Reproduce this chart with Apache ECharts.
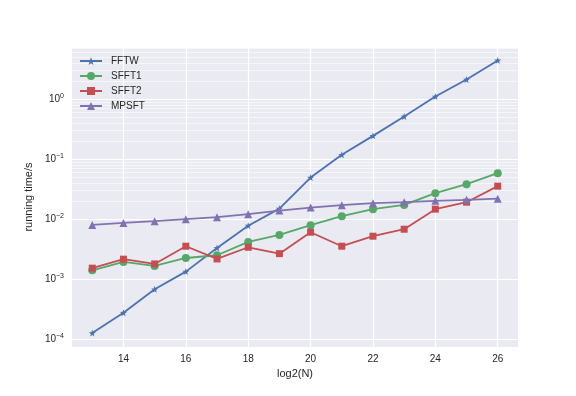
<!DOCTYPE html>
<html>
<head>
<meta charset="utf-8">
<script src="https://cdn.jsdelivr.net/npm/echarts@6/dist/echarts.min.js"></script>
<style>html,body{margin:0;padding:0;background:#fff}#c{width:576px;height:396px}</style>
</head>
<body>
<div id="c"></div>
<script>
const xValues = [13,14,15,16,17,18,19,20,21,22,23,24,25,26];
const fftw  = [1.27e-4,2.77e-4,6.8e-4,1.34e-3,3.32e-3,7.8e-3,0.0150,0.0493,0.118,0.244,0.513,1.10,2.12,4.40];
const sfft1 = [1.41e-3,1.94e-3,1.67e-3,2.26e-3,2.51e-3,4.19e-3,5.47e-3,7.94e-3,0.0112,0.0147,0.0173,0.0271,0.0383,0.0584];
const sfft2 = [1.53e-3,2.16e-3,1.80e-3,3.55e-3,2.18e-3,3.41e-3,2.67e-3,6.07e-3,3.55e-3,5.21e-3,6.81e-3,0.0147,0.0192,0.0355];
const mpsft = [8.03e-3,8.68e-3,9.27e-3,0.0100,0.0108,0.0121,0.0139,0.0156,0.0171,0.0185,0.0192,0.0202,0.0210,0.0220];
const xTicks = [14,16,18,20,22,24,26];
const seriesNames = ['FFTW','SFFT1','SFFT2','MPSFT'];
const colors = ['#4C72B0','#55A868','#C44E52','#8172B2'];
const FONT = 'Liberation Sans';

const yMin = 7.45e-5, yMax = 7.36;
const minorVals = [];
for (let e = -5; e <= 0; e++) {
  for (let m = 2; m <= 9; m++) {
    const v = m * Math.pow(10, e);
    if (v > yMin && v < yMax) minorVals.push(v);
  }
}

const star = 'path://M0,-10 L2.35,-3.24 L9.51,-3.09 L3.8,1.24 L5.88,8.09 L0,4 L-5.88,8.09 L-3.8,1.24 L-9.51,-3.09 L-2.35,-3.24 Z';
const symbols = [star, 'circle', 'rect', 'triangle'];
const sizes = [7, 8, 7, 8];
const datasets = [fftw, sfft1, sfft2, mpsft];

const series = seriesNames.map((n, i) => ({
  name: n,
  type: 'line',
  data: xValues.map((x, j) => [x, datasets[i][j]]),
  symbol: symbols[i],
  symbolSize: sizes[i],
  showAllSymbol: true,
  color: colors[i],
  lineStyle: {width: 1.8, color: colors[i]},
  itemStyle: {color: colors[i]},
  z: 3 + i
}));
series.push({
  name: 'minor',
  type: 'line',
  data: [],
  z: 1,
  silent: true,
  markLine: {
    z: 1,
    silent: true,
    symbol: ['none','none'],
    label: {show: false},
    animation: false,
    lineStyle: {color: '#ffffff', width: 0.6, type: 'solid'},
    data: minorVals.map(v => ({yAxis: v}))
  }
});

function supLabel(v) {
  const l = Math.log10(v);
  const r = Math.round(l);
  if (Math.abs(l - r) > 1e-6) return '';
  const s = r < 0 ? '\u2212' + (-r) : String(r);
  return '{b|10}{e|' + s + '}';
}

const chart = echarts.init(document.getElementById('c'), null, {renderer: 'canvas'});
chart.setOption({
  animation: false,
  backgroundColor: '#ffffff',
  textStyle: {fontFamily: FONT},
  grid: {left: 72, right: 58, top: 47, bottom: 49, show: true, backgroundColor: '#EAEAF2', borderWidth: 0},
  legend: {
    data: seriesNames,
    orient: 'vertical',
    left: 79, top: 56, padding: 0,
    itemWidth: 22, itemHeight: 10, itemGap: 5,
    textStyle: {fontSize: 10, color: '#262626', fontFamily: FONT, padding: [0,0,0,4]}
  },
  xAxis: {
    type: 'value',
    min: 12.35, max: 26.65,
    name: 'log2(N)', nameLocation: 'middle', nameGap: 21,
    nameTextStyle: {fontSize: 11, color: '#262626', fontFamily: FONT},
    axisLine: {show: false},
    axisTick: {show: false, customValues: xTicks},
    axisLabel: {customValues: xTicks, fontSize: 10, color: '#262626', margin: 7, fontFamily: FONT},
    splitLine: {show: true, lineStyle: {color: '#ffffff', width: 1.2}}
  },
  yAxis: {
    type: 'log', logBase: 10,
    min: yMin, max: yMax,
    name: 'running time/s', nameLocation: 'middle', nameGap: 34,
    nameTextStyle: {fontSize: 11, color: '#262626', fontFamily: FONT},
    axisLine: {show: false},
    axisTick: {show: false},
    axisLabel: {
      fontSize: 10, color: '#262626', margin: 8, fontFamily: FONT,
      formatter: supLabel,
      rich: {b: {fontSize: 10, color: '#262626', fontFamily: FONT}, e: {fontSize: 7, color: '#262626', fontFamily: FONT, padding: [0,0,6,0]}}
    },
    splitLine: {show: true, lineStyle: {color: '#ffffff', width: 1.2}}
  },
  series: series
});
</script>
</body>
</html>
